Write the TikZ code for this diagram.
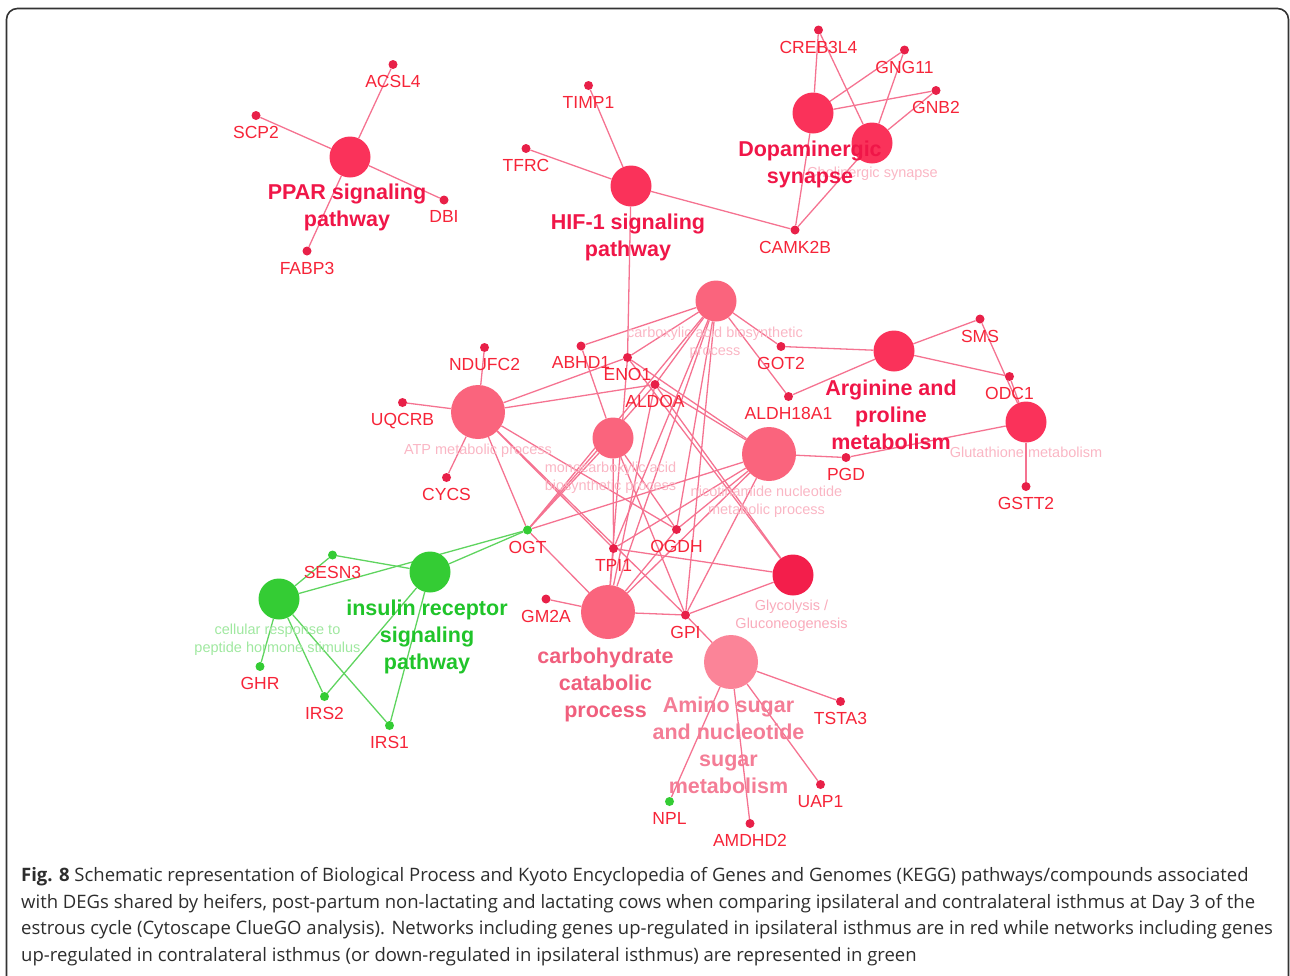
\documentclass[tikz,border=0pt]{standalone}
\usepackage{fontspec}
\setmainfont{Liberation Sans}
\newfontfamily\capfont{Open Sans}
\usetikzlibrary{backgrounds}

\definecolor{genered}{RGB}{232,32,72}
\definecolor{genetext}{RGB}{246,36,56}
\definecolor{termred}{RGB}{250,50,90}
\definecolor{termpink}{RGB}{250,100,125}
\definecolor{termlight}{RGB}{251,132,152}
\definecolor{glycred}{RGB}{243,30,75}
\definecolor{edgepink}{RGB}{245,115,145}
\definecolor{labelred}{RGB}{240,22,72}
\definecolor{labelpink}{RGB}{240,95,125}
\definecolor{labellight}{RGB}{244,125,150}
\definecolor{faintpink}{RGB}{250,182,196}
\definecolor{nodegreen}{RGB}{52,204,52}
\definecolor{edgegreen}{RGB}{95,212,95}
\definecolor{labelgreen}{RGB}{32,196,42}
\definecolor{faintgreen}{RGB}{160,232,160}
\definecolor{captext}{RGB}{45,45,45}

\tikzset{
  gene/.style={circle, fill=genered, inner sep=0pt, minimum size=9pt},
  genegreen/.style={gene, fill=nodegreen},
  genelbl/.style={text=genetext, font=\fontsize{17.5}{21}\selectfont, inner sep=0pt},
  term/.style={circle, inner sep=0pt, minimum size=41pt},
  bigterm/.style={term, minimum size=54pt},
  boldlbl/.style={font=\bfseries\fontsize{21.5}{27}\selectfont, align=center, inner sep=0pt, anchor=north},
  faintlbl/.style={font=\fontsize{14.5}{17.5}\selectfont, align=center, inner sep=0pt, anchor=north, text=faintpink},
  edge/.style={draw=edgepink, line width=1.3pt},
  gedge/.style={draw=edgegreen, line width=1.3pt}
}

\begin{document}
\begin{tikzpicture}[x=1pt, y=-1pt, label distance=6pt]
    \useasboundingbox (0,0) rectangle (1290,975);
    % Frame
    \draw[line width=1.6pt, black!80, rounded corners=11pt] (6.5,8.5) rectangle (1288.5,990);

    % Term nodes
    \node[term, fill=termred] (ppar) at (350,157) {};
    \node[term, fill=termred] (hif) at (631,186) {};
    \node[term, fill=termred] (dopa) at (813,113) {};
    \node[term, fill=termred] (chol) at (872,143) {};
    \node[term, fill=termpink] (carbox) at (716,301) {};
    \node[bigterm, fill=termpink] (atp) at (478,412) {};
    \node[term, fill=termpink] (mono) at (613,438) {};
    \node[bigterm, fill=termpink] (nico) at (769,454) {};
    \node[term, fill=termred] (arg) at (894,351) {};
    \node[term, fill=termred] (glut) at (1026,422) {};
    \node[term, fill=glycred] (glyc) at (793,575) {};
    \node[bigterm, fill=termpink] (carbo) at (608,612) {};
    \node[bigterm, fill=termlight] (amino) at (731,662) {};
    \node[term, fill=nodegreen] (insulin) at (430,572) {};
    \node[term, fill=nodegreen] (cellresp) at (279,599) {};

    % Gene nodes
    \node[gene, label={[genelbl]below:ACSL4}] (acsl4) at (393,64.5) {};
    \node[gene, label={[genelbl]below:SCP2}] (scp2) at (256,115.5) {};
    \node[gene, label={[genelbl]below:DBI}] (dbi) at (444,200) {};
    \node[gene, label={[genelbl]below:FABP3}] (fabp3) at (307,251) {};
    \node[gene, label={[genelbl]below:TIMP1}] (timp1) at (588.5,85.5) {};
    \node[gene, label={[genelbl]below:TFRC}] (tfrc) at (526,148.5) {};
    \node[gene, label={[genelbl]below:CREB3L4}] (creb3l4) at (818.5,30) {};
    \node[gene, label={[genelbl]below:GNG11}] (gng11) at (904.5,50) {};
    \node[gene, label={[genelbl]below:GNB2}] (gnb2) at (936,90.5) {};
    \node[gene, label={[genelbl]below:CAMK2B}] (camk2b) at (795,230) {};
    \node[gene, label={[genelbl]below:NDUFC2}] (ndufc2) at (484.5,347.5) {};
    \node[gene, label={[genelbl]below:UQCRB}] (uqcrb) at (402.5,402.5) {};
    \node[gene, label={[genelbl]below:CYCS}] (cycs) at (446.5,477.5) {};
    \node[gene, label={[genelbl]below:ABHD1}] (abhd1) at (581,346) {};
    \node[gene, label={[genelbl]below:ENO1}] (eno1) at (627.5,357.5) {};
    \node[gene, label={[genelbl]below:ALDOA}] (aldoa) at (655,384.5) {};
    \node[gene, label={[genelbl]below:GOT2}] (got2) at (781,346.5) {};
    \node[gene, label={[genelbl]below:ALDH18A1}] (aldh18a1) at (788.5,396.5) {};
    \node[gene, label={[genelbl]below:SMS}] (sms) at (980,319) {};
    \node[gene, label={[genelbl]below:ODC1}] (odc1) at (1009.5,376.5) {};
    \node[gene, label={[genelbl]below:PGD}] (pgd) at (846,457.5) {};
    \node[gene, label={[genelbl]below:GSTT2}] (gstt2) at (1026,486.5) {};
    \node[genegreen, label={[genelbl]below:OGT}] (ogt) at (527.5,530) {};
    \node[gene, label={[genelbl]below:TPI1}] (tpi1) at (613.5,548.5) {};
    \node[gene, label={[genelbl]below:OGDH}] (ogdh) at (676.5,529.5) {};
    \node[gene, label={[genelbl]below:GM2A}] (gm2a) at (546,599) {};
    \node[gene, label={[genelbl]below:GPI}] (gpi) at (685.5,615) {};
    \node[genegreen, label={[genelbl]below:SESN3}] (sesn3) at (332.5,555) {};
    \node[genegreen, label={[genelbl]below:GHR}] (ghr) at (260,666.5) {};
    \node[genegreen, label={[genelbl]below:IRS2}] (irs2) at (324.5,696.5) {};
    \node[genegreen, label={[genelbl]below:IRS1}] (irs1) at (389.5,725.5) {};
    \node[gene, label={[genelbl]below:TSTA3}] (tsta3) at (840.5,701.5) {};
    \node[gene, label={[genelbl]below:UAP1}] (uap1) at (820.5,784.5) {};
    \node[genegreen, label={[genelbl]below:NPL}] (npl) at (669.5,801.5) {};
    \node[gene, label={[genelbl]below:AMDHD2}] (amdhd2) at (750,823.5) {};

    % Term labels
    \node[faintlbl] (choltxt) at (872.5,167) {Cholinergic synapse};
    \node[faintlbl] (carboxtxt) at (715,327) {carboxylic acid biosynthetic\\process};
    \node[faintlbl] (atptxt) at (478,444) {ATP metabolic process};
    \node[faintlbl] (monotxt) at (610.5,462) {monocarboxylic acid\\biosynthetic process};
    \node[faintlbl] (nicotxt) at (766.5,486) {nicotinamide nucleotide\\metabolic process};
    \node[faintlbl] (gluttxt) at (1026,447) {Glutathione metabolism};
    \node[faintlbl, text=faintpink!80!labellight] (glyctxt) at (791.5,600) {Glycolysis /\\Gluconeogenesis};
    \node[faintlbl, text=faintgreen] (celltxt) at (277.5,624) {cellular response to\\peptide hormone stimulus};
    \node[boldlbl, text=labelred] (ppartxt) at (347,184) {PPAR signaling\\pathway};
    \node[boldlbl, text=labelred] (hiftxt) at (628,214) {HIF-1 signaling\\pathway};
    \node[boldlbl, text=labelred] (dopatxt) at (810,141) {Dopaminergic\\synapse};
    \node[boldlbl, text=labelred] (argtxt) at (891,380) {Arginine and\\proline\\metabolism};
    \node[boldlbl, text=labelpink] (carbotxt) at (605.5,648) {carbohydrate\\catabolic\\process};
    \node[boldlbl, text=labellight] (aminotxt) at (728.5,697) {Amino sugar\\and nucleotide\\sugar\\metabolism};
    \node[boldlbl, text=labelgreen] (insulintxt) at (427,600) {insulin receptor\\signaling\\pathway};

    % Connectors, drawn behind the nodes
    \begin{scope}[on background layer]
        \foreach \g in {acsl4,scp2,dbi,fabp3} \draw[edge] (ppar) -- (\g);
        \foreach \g in {timp1,tfrc,camk2b,eno1} \draw[edge] (hif) -- (\g);
        \foreach \g in {creb3l4,gng11,gnb2,camk2b} {
            \draw[edge] (dopa) -- (\g);
            \draw[edge] (chol) -- (\g);
        }
        \foreach \g in {abhd1,eno1,aldoa,got2,aldh18a1,tpi1,ogdh,gpi,ogt,carbo} \draw[edge] (carbox) -- (\g);
        \foreach \g in {ndufc2,uqcrb,cycs,eno1,aldoa,ogt,tpi1,gpi,ogdh} \draw[edge] (atp) -- (\g);
        \foreach \g in {abhd1,ogt,tpi1,ogdh,gpi} \draw[edge] (mono) -- (\g);
        \foreach \g in {eno1,aldoa,ogt,tpi1,ogdh,gpi,pgd,carbo} \draw[edge] (nico) -- (\g);
        \foreach \g in {eno1,aldoa,tpi1,gpi} \draw[edge] (glyc) -- (\g);
        \foreach \g in {gm2a,ogt,tpi1,gpi,ogdh,eno1,aldoa} \draw[edge] (carbo) -- (\g);
        \foreach \g in {gpi,tsta3,uap1,amdhd2,npl} \draw[edge] (amino) -- (\g);
        \foreach \g in {got2,aldh18a1,sms,odc1} \draw[edge] (arg) -- (\g);
        \foreach \g in {sms,odc1,gstt2,pgd} \draw[edge] (glut) -- (\g);
        \draw[edge] (ogt) -- (aldoa);
        \foreach \g in {ogt,sesn3,irs2,irs1} \draw[gedge] (insulin) -- (\g);
        \foreach \g in {ogt,sesn3,ghr,irs2,irs1} \draw[gedge] (cellresp) -- (\g);
    \end{scope}

    % Caption
    \node[anchor=north west, inner sep=0pt, align=left, text=captext,
          font=\capfont\fontsize{18.5}{26.7}\selectfont] (caption) at (21,867) {%
        \textbf{Fig. 8} Schematic representation of Biological Process and Kyoto Encyclopedia of Genes and Genomes (KEGG) pathways/compounds associated\\
        with DEGs shared by heifers, post-partum non-lactating and lactating cows when comparing ipsilateral and contralateral isthmus at Day 3 of the\\
        estrous cycle (Cytoscape ClueGO analysis). Networks including genes up-regulated in ipsilateral isthmus are in red while networks including genes\\
        up-regulated in contralateral isthmus (or down-regulated in ipsilateral isthmus) are represented in green};
\end{tikzpicture}
\end{document}
